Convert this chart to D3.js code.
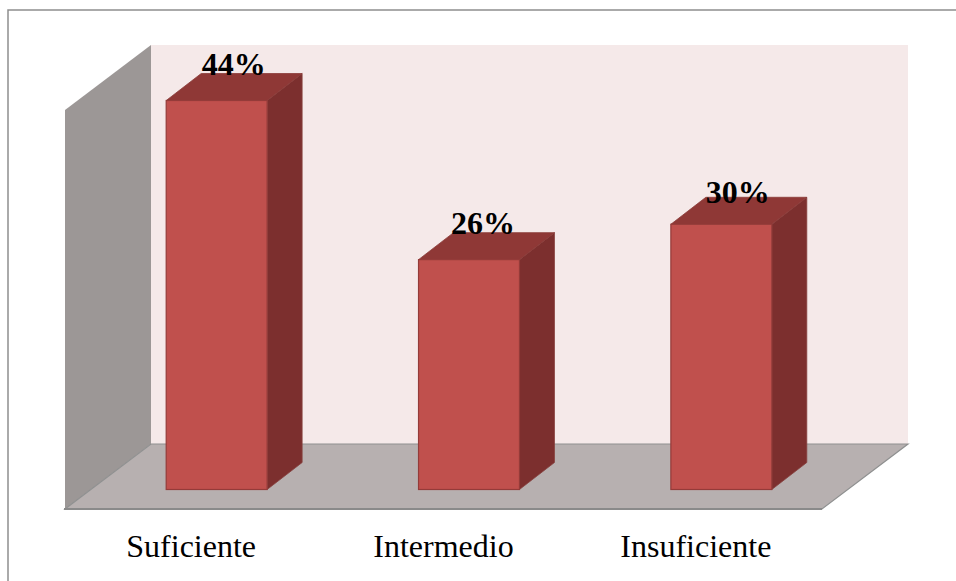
<!DOCTYPE html>
<html>
<head>
<meta charset="utf-8">
<script src="https://cdn.jsdelivr.net/npm/d3@7"></script>
<style>
  html, body { margin: 0; padding: 0; background: #fff; overflow: hidden; }
  svg { display: block; }
</style>
</head>
<body>
<div id="chart"></div>
<script>
const categories = ["Suficiente", "Intermedio", "Insuficiente"];
const percents = [44, 26, 30];

const width = 956, height = 581;

// floor corners on screen, the 3d box is just a sheared offset
const frontLeft = 65, frontRight = 822, frontY = 509;
const floorDx = 86, floorDy = -65;
const wallTop = 45;
const depthDx = 35, depthDy = -27;
const barShiftX = 25.5;

// the data labels were dragged by hand in the original
const labelNudgeX = [-0.5, -3.5, -1];
const labelNudgeY = [0, 0, 5];

const svg = d3.select("#chart").append("svg")
    .attr("width", width)
    .attr("height", height);

// outer chart border, only top and left are in the picture
svg.append("path")
    .attr("d", d3.line()([[8, 581], [8, 10], [956, 10]]))
    .attr("fill", "none")
    .attr("stroke", "#8e8e8e")
    .attr("stroke-width", 1.5);

const x = d3.scaleBand()
    .domain(categories)
    .range([frontLeft, frontRight])
    .paddingInner(0.6)
    .paddingOuter(0.3);

const y = d3.scaleLinear()
    .domain([0, 44])
    .range([489.5, 100.5]);

const line = d3.line();

// back wall
svg.append("rect")
    .attr("x", frontLeft + floorDx)
    .attr("y", wallTop)
    .attr("width", frontRight - frontLeft)
    .attr("height", frontY + floorDy - wallTop)
    .attr("fill", "#f5e9e9");

// left wall
svg.append("path")
    .attr("d", line([
        [frontLeft, wallTop - floorDy],
        [frontLeft + floorDx, wallTop],
        [frontLeft + floorDx, frontY + floorDy],
        [frontLeft, frontY]
    ]) + "Z")
    .attr("fill", "#9c9796");

// floor
svg.append("path")
    .attr("d", line([
        [frontLeft, frontY],
        [frontLeft + floorDx, frontY + floorDy],
        [frontRight + floorDx, frontY + floorDy],
        [frontRight, frontY]
    ]) + "Z")
    .attr("fill", "#b7b0b0")
    .attr("stroke", "#8f9090")
    .attr("stroke-width", 1.2);

svg.append("path")
    .attr("d", line([[frontLeft - 1, frontY], [frontRight, frontY]]))
    .attr("stroke", "#8a8a8a")
    .attr("stroke-width", 2);

const data = categories.map((c, i) => ({ name: c, value: percents[i], i }));

const bar = svg.append("g")
    .selectAll("g")
    .data(data)
    .join("g")
    .attr("transform", d => `translate(${x(d.name) + barShiftX},0)`);

const bw = x.bandwidth();

// side face
bar.append("path")
    .attr("d", d => line([
        [bw, y(d.value)],
        [bw + depthDx, y(d.value) + depthDy],
        [bw + depthDx, y(0) + depthDy],
        [bw, y(0)]
    ]) + "Z")
    .attr("fill", "#7c2f2e")
    .attr("stroke", "#86403e")
    .attr("stroke-width", 0.8);

// top face
bar.append("path")
    .attr("d", d => line([
        [0, y(d.value)],
        [depthDx, y(d.value) + depthDy],
        [bw + depthDx, y(d.value) + depthDy],
        [bw, y(d.value)]
    ]) + "Z")
    .attr("fill", "#8f3836")
    .attr("stroke", "#8a3b39")
    .attr("stroke-width", 0.8);

// front face
bar.append("rect")
    .attr("y", d => y(d.value))
    .attr("width", bw)
    .attr("height", d => y(0) - y(d.value))
    .attr("fill", "#c0504d")
    .attr("stroke", "#943b39")
    .attr("stroke-width", 1.2);

// value labels sit on the top face
bar.append("text")
    .attr("x", d => bw / 2 + depthDx / 2 + labelNudgeX[d.i])
    .attr("y", d => y(d.value) - 26 + labelNudgeY[d.i])
    .attr("text-anchor", "middle")
    .attr("font-family", "'Liberation Serif', serif")
    .attr("font-weight", "bold")
    .attr("font-size", 32)
    .attr("fill", "#000")
    .text(d => d.value + "%");

// category axis
const axis = svg.append("g")
    .attr("transform", `translate(0,${frontY})`)
    .call(d3.axisBottom(x).tickSize(0).tickPadding(25));

axis.select(".domain").remove();
axis.selectAll("text")
    .attr("font-family", "'Liberation Serif', serif")
    .attr("font-size", 32)
    .attr("fill", "#000");
</script>
</body>
</html>
